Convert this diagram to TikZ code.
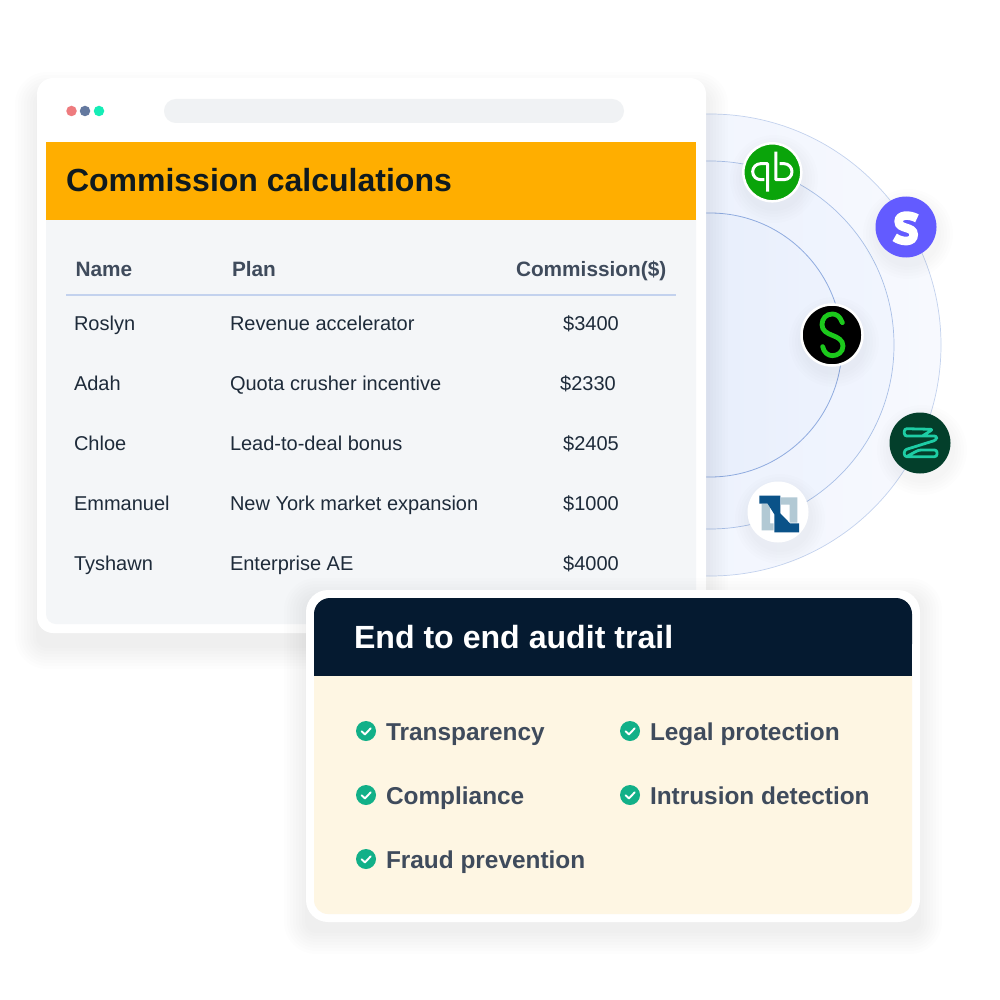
\documentclass[tikz,border=0pt]{standalone}
\usepackage{fontspec}
\setmainfont{Liberation Sans}
\definecolor{ink}{HTML}{0F1A1F}
\definecolor{slate}{HTML}{3F4B5C}
\definecolor{rowc}{HTML}{1E2B3A}
\definecolor{orangeh}{HTML}{FFAE00}
\definecolor{panel}{HTML}{F4F6F8}
\definecolor{barc}{HTML}{F0F2F4}
\definecolor{navy}{HTML}{051A30}
\definecolor{cream}{HTML}{FEF6E3}
\definecolor{okc}{HTML}{12B088}
\definecolor{ringa}{HTML}{C3D2EE}
\definecolor{ringb}{HTML}{A9BFE6}
\definecolor{ringc}{HTML}{8FABDF}
\definecolor{oa}{HTML}{EDF2FD}\definecolor{ob}{HTML}{F7F9FE}
\definecolor{ma}{HTML}{E9EFFC}\definecolor{mb}{HTML}{F1F5FE}
\definecolor{ia}{HTML}{E2EAFB}\definecolor{ib}{HTML}{EEF3FD}
\definecolor{qbg}{HTML}{0AA40A}
\definecolor{stc}{HTML}{635BFF}
\definecolor{spg}{HTML}{1CC91C}
\definecolor{zeng}{HTML}{033F2B}
\definecolor{zent}{HTML}{1ECDA5}
\definecolor{nsl}{HTML}{B2C9D4}
\definecolor{nsd}{HTML}{0A5288}
\definecolor{dota}{HTML}{EE7B7E}
\definecolor{dotb}{HTML}{64799F}
\definecolor{dotc}{HTML}{15EDB6}
\tikzset{
  x=1pt,y=-1pt,
  every node/.style={inner sep=0pt,outer sep=0pt},
  cell/.style={anchor=base west,font=\fontsize{20}{24}\selectfont,text=rowc},
  amount/.style={anchor=base,font=\fontsize{20}{24}\selectfont,text=rowc},
  head/.style={anchor=base west,font=\fontsize{20.8}{24}\selectfont\bfseries,text=slate},
  item/.style={anchor=base west,font=\fontsize{24.4}{30}\selectfont\bfseries,text=slate},
  logo/.style={circle,minimum size=61pt,line width=2.5pt,draw=white},
  wdot/.style={circle,minimum size=10.5pt},
  zoomed/.style={shift={#1},x=0.33333pt,y=-0.33333pt},
}
\newcommand{\softbox}[5]{%
  \foreach \g in {22,19,...,1}{
    \fill[black,opacity=0.0065,rounded corners=\g pt+10pt]
      (#1-\g,#2+#5-\g) rectangle (#3+\g,#4+#5+\g);
  }
}
\newcommand{\softdisc}[3]{%
  \foreach \g in {14,11,...,0}{
    \fill[black,opacity=0.008] (#1+2,#2+7) circle[radius=#3+\g];
  }
}
\newcommand{\okmark}[2]{%
  \node[circle,fill=okc,minimum size=20pt] (#1) at #2 {};
  \draw[white,line width=1.9pt,line cap=round,line join=round]
    ([shift={(-4.5,0.2)}]#1.center) -- ([shift={(-1,3.4)}]#1.center) -- ([shift={(4.6,-2.6)}]#1.center);
}
\begin{document}
\begin{tikzpicture}
\useasboundingbox (0,0) rectangle (1000,1000);
\fill[white] (0,0) rectangle (1000,1000);

% orbit discs
\begin{scope}
  \clip (706,100) rectangle (960,590);
  \shade[left color=oa,right color=ob] (710,345) circle[radius=231];
  \draw[ringa,line width=0.7pt] (710,345) circle[radius=231];
  \shade[left color=ma,right color=mb] (710,345) circle[radius=184];
  \draw[ringb,line width=0.7pt] (710,345) circle[radius=184];
  \shade[left color=ia,right color=ib] (710,345) circle[radius=132];
  \draw[ringc,line width=0.8pt] (710,345) circle[radius=132];
\end{scope}

% logos
\softdisc{772}{172}{30}
\softdisc{906}{227}{31}
\softdisc{832}{335}{31}
\softdisc{920}{443}{31}
\softdisc{778}{512}{31}

\node[logo,fill=qbg,minimum size=58pt] (qb) at (772.3,172.3) {};
\begin{scope}[zoomed={(739,139)}]
  \draw[white,line width=3pt,line join=round]
    (76,122) -- (65,122) arc[start angle=90,end angle=270,radius=24] -- (85.5,74) -- (85.5,158);
  \draw[white,line width=3pt,line join=round]
    (122,74) -- (135,74) arc[start angle=-90,end angle=90,radius=24] -- (110.5,122) -- (110.5,38);
\end{scope}

\node[logo,fill=stc,draw=none] (stripe) at (906,227) {};
\begin{scope}[zoomed={(873,194)}]
  \draw[white,line width=8.6pt]
    (132,73) .. controls (108,60) and (77,62) .. (77,82)
    .. controls (77,108) and (122,95) .. (122,122)
    .. controls (122,146) and (88,146) .. (65,130);
\end{scope}

\node[logo,fill=black] (spiff) at (832,335) {};
\begin{scope}[zoomed={(799,302)}]
  \draw[spg,line width=4.8pt,line cap=round]
    (130,62) .. controls (123,42) and (111,36) .. (100,36)
    .. controls (81,36) and (69,50) .. (69,68)
    .. controls (69,86) and (84,94) .. (100,100)
    .. controls (116,106) and (132,114) .. (132,132)
    .. controls (132,150) and (116,161) .. (100,161)
    .. controls (86,161) and (74,150) .. (71,134);
\end{scope}

\node[logo,fill=zeng,draw=none] (zen) at (920,443) {};
\begin{scope}[zoomed={(887,410)}]
  \draw[zent,line width=2.8pt,line join=round,rounded corners=2.5pt]
    (106,78) -- (138,58) -- (52,56) -- (52,78) -- (150,78) -- (148,90) -- (52,120) -- (52,140) -- (150,140) -- (150,120) -- (95,120) -- (62,138);
\end{scope}

\node[logo,fill=white,draw=none] (ns) at (778,512) {};
\begin{scope}[zoomed={(745,480)}]
  \fill[nsl] (50,72) -- (75,72) -- (75,130) -- (86,130) -- (86,151) -- (50,151) -- cycle;
  \fill[nsl] (108,52) -- (157,52) -- (157,128) -- (134,128) -- (134,74) -- (108,74) -- cycle;
  \fill[nsd] (43,47) -- (106,47) -- (106,100) -- (135,130) -- (162,130) -- (162,157) -- (88,157) -- (88,103) -- (68,71) -- (43,71) -- cycle;
\end{scope}

% window card
\softbox{37}{80}{706}{633}{14}
\fill[white,rounded corners=16pt] (37,78) rectangle (706,633);
\fill[panel,rounded corners=10pt] (46,200) rectangle (696,624);
\fill[orangeh] (46,142) rectangle (696,220);
\node[wdot,fill=dota] (d1) at (71.5,111) {};
\node[wdot,fill=dotb] (d2) at (85,111) {};
\node[wdot,fill=dotc] (d3) at (99,111) {};
\fill[barc,rounded corners=11.9pt] (164,99) rectangle (624,123);

\node[anchor=base west,font=\fontsize{32}{40}\selectfont\bfseries,text=ink] (title) at (66,192) {Commission calculations};

\node[head] (hname) at (75.5,276) {Name};
\node[head] (hplan) at (232,276) {Plan};
\node[head] (hcomm) at (516,276) {Commission(\$)};
\coordinate (rl) at (66,295); \coordinate (rr) at (676,295);
\draw[ringa,line width=1.5pt] (rl) -- (rr);

\node[cell] (n1) at (74,330) {Roslyn};
\node[cell] (p1) at (230,330) {Revenue accelerator};
\node[amount] (c1) at (591,330) {\$3400};
\node[cell] (n2) at (74,390) {Adah};
\node[cell] (p2) at (230,390) {Quota crusher incentive};
\node[amount] (c2) at (588,390) {\$2330};
\node[cell] (n3) at (74,450) {Chloe};
\node[cell] (p3) at (230,450) {Lead-to-deal bonus};
\node[amount] (c3) at (591,450) {\$2405};
\node[cell] (n4) at (74,510) {Emmanuel};
\node[cell] (p4) at (230,510) {New York market expansion};
\node[amount] (c4) at (591,510) {\$1000};
\node[cell] (n5) at (74,570) {Tyshawn};
\node[cell] (p5) at (230,570) {Enterprise AE};
\node[amount] (c5) at (591,570) {\$4000};

% audit card
\softbox{306}{590}{920}{922}{10}
\fill[white,rounded corners=22pt] (306,590) rectangle (920,922);
\fill[cream,rounded corners=14pt] (314,650) rectangle (912,914);
\fill[navy,rounded corners=16pt] (314,598) rectangle (912,660);
\fill[navy] (314,640) rectangle (912,676);
\node[anchor=base west,font=\fontsize{32.1}{38}\selectfont\bfseries,text=white] (atitle) at (354,648) {End to end audit trail};

\okmark{k1}{(366,731)}
\node[item] (t1) at (386,740) {Transparency};
\okmark{k2}{(366,795)}
\node[item] (t2) at (386,804) {Compliance};
\okmark{k3}{(366,859)}
\node[item] (t3) at (386,868) {Fraud prevention};
\okmark{k4}{(630,731)}
\node[item] (t4) at (650,740) {Legal protection};
\okmark{k5}{(630,795)}
\node[item] (t5) at (650,804) {Intrusion detection};
\end{tikzpicture}
\end{document}
